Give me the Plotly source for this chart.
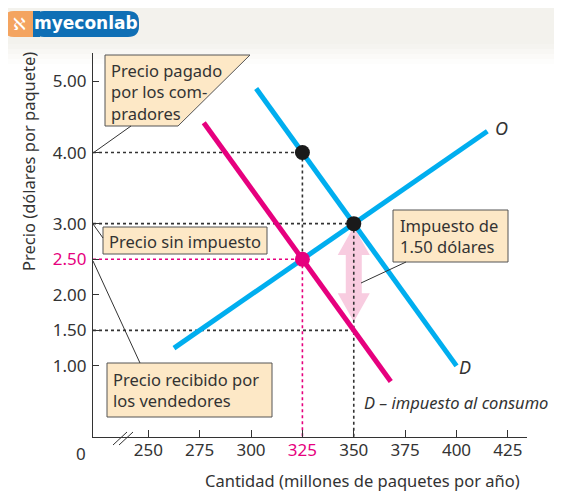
import plotly.graph_objects as go

# --- data -------------------------------------------------------------
supply_q = [262.5, 415]
supply_p = [1.25, 4.30]
demand_q = [302.5, 400]
demand_p = [4.90, 1.00]
demand_tax_q = [277, 368]
demand_tax_p = [4.42, 0.78]

eq_q, eq_p = 350, 3.00          # equilibrium without tax
tax_q = 325                     # quantity with tax
buyer_p, seller_p = 4.00, 2.50  # prices with tax
seller_p_at_eq = 1.50           # supply price reading at 350
tax = 1.50

x_ticks = [250, 275, 300, 325, 350, 375, 400, 425]
y_ticks = [1.00, 1.50, 2.00, 2.50, 3.00, 4.00, 5.00]

X_MIN, X_MAX = 223.1, 434.3
Y_MIN, Y_MAX = 0, 5.40

BLUE = "#00AEEF"
PINK = "#E6007E"
DARK = "#333333"
BOX = "#FDE8C6"
FONT = "Noto Sans"
FS = 16.5

W, H = 562, 492
OFF = 8  # page body margin
# plot area in screen pixels: x 93..527, y 53..437
L, T = 93 - OFF, 53 - OFF
R, B = W - (527 - OFF), H - (437 - OFF)


def px(x):
    return (x - OFF - L) / (W - L - R)


def py(y):
    return (H - B - (y - OFF)) / (H - T - B)


def rounded(x0, y0, x1, y1, r):
    # rounded rect path, screen pixels -> paper coords
    return (f"M {px(x0 + r)} {py(y0)} L {px(x1 - r)} {py(y0)} "
            f"Q {px(x1)} {py(y0)} {px(x1)} {py(y0 + r)} L {px(x1)} {py(y1 - r)} "
            f"Q {px(x1)} {py(y1)} {px(x1 - r)} {py(y1)} L {px(x0 + r)} {py(y1)} "
            f"Q {px(x0)} {py(y1)} {px(x0)} {py(y1 - r)} L {px(x0)} {py(y0 + r)} "
            f"Q {px(x0)} {py(y0)} {px(x0 + r)} {py(y0)} Z")


def label(x, y, text, size=FS, xanchor="center", yanchor="middle", **kw):
    return dict(xref="paper", yref="paper", x=px(x), y=py(y), text=text, showarrow=False,
                xanchor=xanchor, yanchor=yanchor,
                font=dict(family=kw.pop("family", FONT), size=size, color=kw.pop("color", DARK)),
                **kw)


fig = go.Figure()

# light pink tax arrow
head_w, shaft_w, head_l = 7.8, 3.9, 0.40
top, bot = eq_p - 0.04, eq_p - tax + 0.12
ax = [eq_q, eq_q + head_w, eq_q + shaft_w, eq_q + shaft_w, eq_q + head_w, eq_q,
      eq_q - head_w, eq_q - shaft_w, eq_q - shaft_w, eq_q - head_w, eq_q]
ay = [top, top - head_l, top - head_l, bot + head_l, bot + head_l, bot,
      bot + head_l, bot + head_l, top - head_l, top - head_l, top]
fig.add_trace(go.Scatter(x=ax, y=ay, mode="lines", fill="toself",
                         fillcolor="#F8CCE0", line=dict(width=0), hoverinfo="skip"))

# dotted guides
dot = dict(color=DARK, width=1.6, dash="dot")
pdot = dict(color=PINK, width=1.6, dash="dot")
guides = [
    ([X_MIN, tax_q], [buyer_p, buyer_p], dot),
    ([tax_q, tax_q], [buyer_p, seller_p], dot),
    ([X_MIN, eq_q], [eq_p, eq_p], dot),
    ([eq_q, eq_q], [eq_p, Y_MIN], dot),
    ([X_MIN, eq_q], [seller_p_at_eq, seller_p_at_eq], dot),
    ([X_MIN, tax_q], [seller_p, seller_p], pdot),
    ([tax_q, tax_q], [seller_p, Y_MIN], pdot),
]
for gx, gy, st in guides:
    fig.add_trace(go.Scatter(x=gx, y=gy, mode="lines", line=st, hoverinfo="skip"))

# curves
fig.add_trace(go.Scatter(x=supply_q, y=supply_p, mode="lines", line=dict(color=BLUE, width=5)))
fig.add_trace(go.Scatter(x=demand_q, y=demand_p, mode="lines", line=dict(color=BLUE, width=5)))
fig.add_trace(go.Scatter(x=demand_tax_q, y=demand_tax_p, mode="lines", line=dict(color=PINK, width=5)))

# points
fig.add_trace(go.Scatter(x=[tax_q, eq_q], y=[buyer_p, eq_p], mode="markers",
                         marker=dict(color="#1A1A1A", size=15)))
fig.add_trace(go.Scatter(x=[tax_q], y=[seller_p], mode="markers",
                         marker=dict(color=PINK, size=15)))

shapes = []
annotations = []

# header band + logo
bands = ["#F3F2ED", "#F5F4F0", "#F8F7F4", "#FBFAF8", "#FDFDFC"]
for i, c in enumerate(bands):
    shapes.append(dict(type="rect", xref="paper", yref="paper", x0=px(0), x1=px(W + OFF),
                       y0=py(44 + i * 5), y1=py(0 if i == 0 else 44 + (i - 1) * 5),
                       fillcolor=c, line=dict(width=0), layer="below"))
shapes.append(dict(type="path", xref="paper", yref="paper", path=rounded(4, 11, 44, 37, 10),
                   fillcolor="#F4A460", line=dict(width=0)))
shapes.append(dict(type="path", xref="paper", yref="paper", path=rounded(33, 11, 139, 37, 11),
                   fillcolor="#0F6FB5", line=dict(width=0)))
shapes.append(dict(type="rect", xref="paper", yref="paper", x0=px(33), x1=px(40),
                   y0=py(37), y1=py(11), fillcolor="#0F6FB5", line=dict(width=0)))
annotations.append(label(19, 24, "ℵ", size=17, family="DejaVu Sans", color="white"))
annotations.append(label(86, 23, "<b>myeconlab</b>", size=17, family="DejaVu Sans", color="white"))


def box(x0, y0, x1, y1, text, tx, ty):
    shapes.append(dict(type="rect", xref="paper", yref="paper", x0=px(x0), x1=px(x1),
                       y0=py(y1), y1=py(y0), fillcolor=BOX, line=dict(color="#555", width=1)))
    annotations.append(label(tx, ty, text, xanchor="left", yanchor="top", align="left"))


def link(x0, y0, x1, y1):
    shapes.append(dict(type="line", xref="paper", yref="paper", x0=px(x0), y0=py(y0),
                       x1=px(x1), y1=py(y1), line=dict(color=DARK, width=1)))


# "Precio pagado" box with slanted right side
shapes.append(dict(type="path", xref="paper", yref="paper",
                   path=f"M {px(105)} {py(55)} L {px(250)} {py(55)} L {px(178)} {py(126)} "
                        f"L {px(105)} {py(126)} Z",
                   fillcolor=BOX, line=dict(color="#555", width=1)))
annotations.append(label(109, 57, "Precio pagado<br>por los com-<br>pradores",
                         xanchor="left", yanchor="top", align="left"))
link(93, 153, 131, 126)

box(103, 227, 267, 254, "Precio sin impuesto", 107, 228)
link(93, 224, 103, 238)

box(107, 363, 272, 417, "Precio recibido por<br>los vendedores", 111, 366)
link(93, 261, 140, 363)

box(393, 210, 508, 262, "Impuesto de<br>1.50 dólares", 398, 212)
link(361, 283, 406, 262)

# axis break
link(113, 445, 127, 432)
link(119, 445, 133, 432)

# curve labels and axis titles
annotations += [
    dict(x=supply_q[1], y=supply_p[1], text="<i>O</i>", showarrow=False,
         xanchor="left", yanchor="middle", xshift=6, yshift=3,
         font=dict(family=FONT, size=18, color=DARK)),
    dict(x=demand_q[1], y=demand_p[1], text="<i>D</i>", showarrow=False,
         xanchor="left", yanchor="middle", xshift=0, yshift=-1,
         font=dict(family=FONT, size=18, color=DARK)),
    label(362, 402, "<i>D – impuesto al consumo</i>", xanchor="left"),
    label(81, 453, "0", size=17),
    label(362, 480, "Cantidad (millones de paquetes por año)"),
    label(28, 162, "Precio (dólares por paquete)", textangle=-90),
]

x_text = [f"<span style='color:{PINK}'>{v}</span>" if v == tax_q else str(v) for v in x_ticks]
y_text = [f"<span style='color:{PINK}'>{v:.2f}</span>" if v == seller_p else f"{v:.2f}"
          for v in y_ticks]

fig.update_layout(
    width=W, height=H,
    margin=dict(l=L, r=R, t=T, b=B),
    paper_bgcolor="white", plot_bgcolor="white",
    showlegend=False,
    shapes=shapes, annotations=annotations,
    font=dict(family=FONT, size=FS, color=DARK),
)
fig.update_xaxes(range=[X_MIN, X_MAX], tickvals=x_ticks, ticktext=x_text, automargin=False,
                 showgrid=False, zeroline=False, showline=True, linecolor=DARK, linewidth=1.3,
                 ticks="inside", ticklen=7, tickcolor=DARK, ticklabelstandoff=-3,
                 tickfont=dict(size=17))
fig.update_yaxes(range=[Y_MIN, Y_MAX], tickvals=y_ticks, ticktext=y_text, automargin=False,
                 showgrid=False, zeroline=False, showline=True, linecolor=DARK, linewidth=1.3,
                 ticks="inside", ticklen=6, tickcolor=DARK, ticklabelstandoff=2,
                 tickfont=dict(size=17))

fig.write_html("out.html")
